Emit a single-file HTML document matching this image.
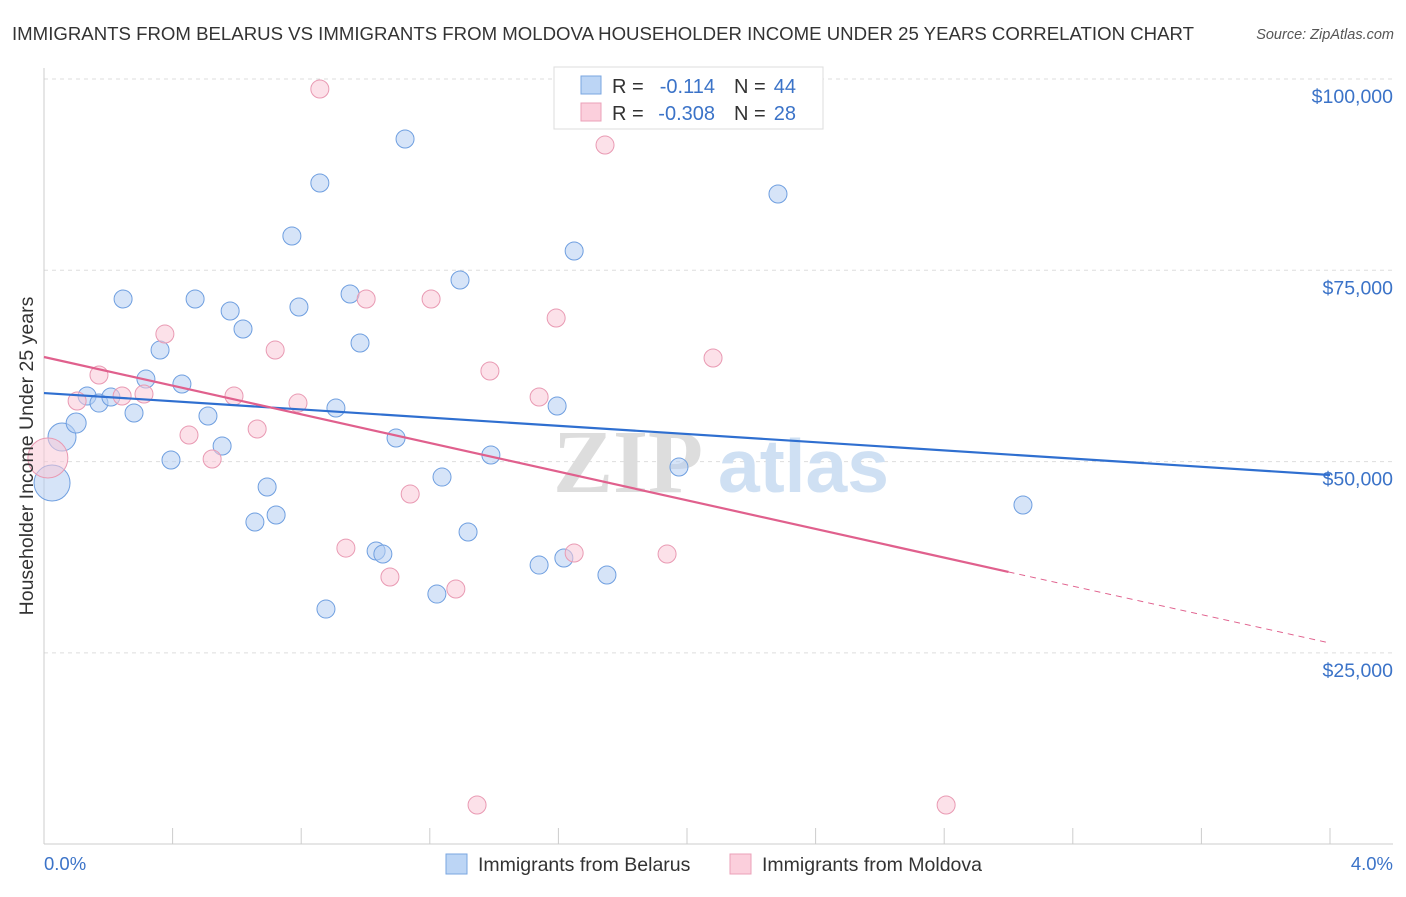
<!DOCTYPE html>
<html><head><meta charset="utf-8"><style>
body{margin:0;background:#fff;font-family:"Liberation Sans",sans-serif;}
</style></head><body>
<svg width="1406" height="892" xmlns="http://www.w3.org/2000/svg" font-family="Liberation Sans, sans-serif">
<text x="12" y="40" font-size="18" textLength="1182" lengthAdjust="spacingAndGlyphs" fill="#333">IMMIGRANTS FROM BELARUS VS IMMIGRANTS FROM MOLDOVA HOUSEHOLDER INCOME UNDER 25 YEARS CORRELATION CHART</text>
<text x="1394" y="39" font-size="14.5" fill="#555" font-style="italic" text-anchor="end">Source: ZipAtlas.com</text>
<g id="grid"></g>
<g>
<text x="553" y="492" font-size="90" fill="#ddd" font-family="Liberation Serif, serif" font-weight="bold">ZIP</text>
<text x="718" y="492" font-size="75" fill="#cfe0f3" font-weight="bold">atlas</text>
</g>
<g id="pts"></g>
<g id="lines"></g>
<text x="33" y="456" font-size="19.5" fill="#333" text-anchor="middle" transform="rotate(-90 33 456)">Householder Income Under 25 years</text>
<text x="44" y="870" font-size="18.5" fill="#3b73c8">0.0%</text>
<text x="1393" y="870" font-size="18.5" fill="#3b73c8" text-anchor="end">4.0%</text>
<g>
<rect x="554" y="67" width="269" height="62" fill="#fff" stroke="#ddd"/>
<rect x="581" y="76" width="20" height="18" fill="#bcd5f5" stroke="#7aa6e0"/>
<rect x="581" y="103" width="20" height="18" fill="#fbcfdc" stroke="#eba0b8"/>
<text x="612" y="93" font-size="20" fill="#333">R =</text>
<text x="715" y="93" font-size="20" fill="#3b73c8" text-anchor="end">-0.114</text>
<text x="734" y="93" font-size="20" fill="#333">N =</text>
<text x="796" y="93" font-size="20" fill="#3b73c8" text-anchor="end">44</text>
<text x="612" y="120" font-size="20" fill="#333">R =</text>
<text x="715" y="120" font-size="20" fill="#3b73c8" text-anchor="end">-0.308</text>
<text x="734" y="120" font-size="20" fill="#333">N =</text>
<text x="796" y="120" font-size="20" fill="#3b73c8" text-anchor="end">28</text>
</g>
<g>
<rect x="446" y="854" width="21" height="20" fill="#bcd5f5" stroke="#7aa6e0"/>
<text x="478" y="871" font-size="19.5" fill="#333">Immigrants from Belarus</text>
<rect x="730" y="854" width="21" height="20" fill="#fbcfdc" stroke="#eba0b8"/>
<text x="762" y="871" font-size="19.5" fill="#333">Immigrants from Moldova</text>
</g>
</svg>
<script>
const yTicks=[25000,50000,75000,100000];
const yTickLabels=["$25,000","$50,000","$75,000","$100,000"];
const xTicks=[0,0.4,0.8,1.2,1.6,2.0,2.4,2.8,3.2,3.6,4.0];
const belarusX=[0.025,0.056,0.100,0.134,0.171,0.208,0.246,0.280,0.317,0.361,0.395,0.429,0.470,0.510,0.554,0.579,0.619,0.656,0.694,0.722,0.771,0.793,0.858,0.877,0.908,0.952,0.983,1.033,1.054,1.095,1.123,1.222,1.238,1.294,1.319,1.390,1.540,1.596,1.617,1.649,1.751,1.975,2.283,3.045];
const belarusY=[47200,53210,55040,58570,57650,58440,71250,56350,60790,64580,50210,60140,71250,55960,52040,69680,67330,42100,46680,43020,79480,70200,86410,30730,57000,71900,65500,38310,37920,53080,92160,32690,47980,73730,40800,50860,36480,57260,37400,77520,35180,49290,84970,44330];
const belarusR=[18,14,10,9,9,9,9,9,9,9,9,9,9,9,9,9,9,9,9,9,9,9,9,9,9,9,9,9,9,9,9,9,9,9,9,9,9,9,9,9,9,9,9,9];
const moldovaX=[0.012,0.103,0.171,0.243,0.311,0.376,0.451,0.523,0.591,0.663,0.719,0.790,0.858,0.939,1.002,1.076,1.139,1.204,1.281,1.347,1.387,1.540,1.593,1.649,1.745,1.938,2.081,2.806];
const moldovaY=[50470,57920,61320,58570,58830,66670,53470,50340,58570,54260,64580,57650,98690,38700,71250,34920,45760,71250,33350,5120,61840,58440,68760,38050,91370,37920,63540,5120];
const moldovaR=[20,9,9,9,9,9,9,9,9,9,9,9,9,9,9,9,9,9,9,9,9,9,9,9,9,9,9,9];
const belarusLine=[[0,58960],[4,48250]];
const moldovaLine=[[0,63670],[3.0,35580],[4,26290]];
const NS="http://www.w3.org/2000/svg";
const xs=v=>44+v*(1330-44)/4;
const ys=v=>79+(100000-v)*191.3/25000;
function mk(tag,attrs,parent){const e=document.createElementNS(NS,tag);for(const k in attrs)e.setAttribute(k,attrs[k]);parent.appendChild(e);return e;}
const grid=document.getElementById('grid');
yTicks.forEach((t,i)=>{
 const l=mk('line',{x1:44,x2:1393,y1:ys(t),y2:ys(t),stroke:'#ddd','stroke-dasharray':'4,4'},grid);
 
 
 const tx=mk('text',{x:1393,y:ys(t)+24,'font-size':19.5,fill:'#3b73c8','text-anchor':'end'},grid);
 tx.textContent=yTickLabels[i];
 
 
});
const ax=mk('line',{x1:44,x2:1393,y1:844,y2:844,stroke:'#ccc'},grid);


const ay=mk('line',{x1:44,x2:44,y1:68,y2:844,stroke:'#ccc'},grid);


xTicks.forEach(t=>{
 const l=mk('line',{x1:xs(t),x2:xs(t),y1:828,y2:844,stroke:'#ccc'},grid);
 
 
});
const pts=document.getElementById('pts');
belarusX.forEach((x,i)=>{
 const c=mk('circle',{cx:xs(x),cy:ys(belarusY[i]),r:belarusR[i],fill:'rgba(180,206,243,0.55)',stroke:'#6f9fe0','stroke-width':1},pts);
 
 
});
moldovaX.forEach((x,i)=>{
 const c=mk('circle',{cx:xs(x),cy:ys(moldovaY[i]),r:moldovaR[i],fill:'rgba(250,200,215,0.55)',stroke:'#e99ab3','stroke-width':1},pts);
 
 
});
const lines=document.getElementById('lines');
const bl=mk('line',{x1:xs(belarusLine[0][0]),y1:ys(belarusLine[0][1]),x2:xs(belarusLine[1][0]),y2:ys(belarusLine[1][1]),stroke:'#2f6fd0','stroke-width':2.2},lines);


const ml=mk('line',{x1:xs(moldovaLine[0][0]),y1:ys(moldovaLine[0][1]),x2:xs(moldovaLine[1][0]),y2:ys(moldovaLine[1][1]),stroke:'#e0608d','stroke-width':2.2},lines);


const md=mk('line',{x1:xs(moldovaLine[1][0]),y1:ys(moldovaLine[1][1]),x2:xs(moldovaLine[2][0]),y2:ys(moldovaLine[2][1]),stroke:'#e0608d','stroke-width':1,'stroke-dasharray':'6,5'},lines);


</script>
</body></html>
